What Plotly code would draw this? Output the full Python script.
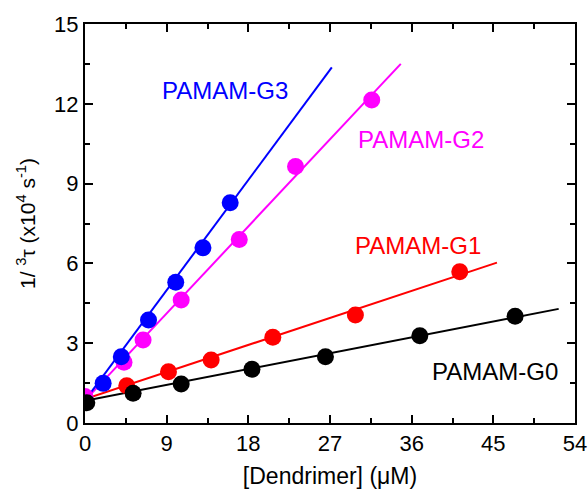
import plotly.graph_objects as go

# ---- data ----
g0_x = [0.2, 5.3, 10.6, 18.4, 26.5, 36.9, 47.4]
g0_y = [0.76, 1.12, 1.47, 2.02, 2.49, 3.28, 4.01]
g1_x = [4.6, 9.2, 13.9, 20.7, 29.8, 41.3]
g1_y = [1.40, 1.93, 2.37, 3.22, 4.06, 5.69]
g2_x = [0.0, 4.3, 6.4, 10.6, 17.0, 23.2, 31.6]
g2_y = [1.0, 2.28, 3.12, 4.62, 6.90, 9.64, 12.14]
g3_x = [2.0, 4.0, 7.0, 10.0, 13.0, 16.0]
g3_y = [1.49, 2.49, 3.87, 5.29, 6.59, 8.28]

# linear fit lines (start / end)
fit0_x = [0, 52.2]
fit0_y = [0.84, 4.29]
fit1_x = [0, 45.4]
fit1_y = [0.90, 6.03]
fit2_x = [0, 34.8]
fit2_y = [0.85, 13.5]
fit3_x = [0, 27.2]
fit3_y = [0.85, 13.37]

labels = ["PAMAM-G0", "PAMAM-G1", "PAMAM-G2", "PAMAM-G3"]
colors = ["#000000", "#ff0000", "#ff00ff", "#0000ff"]

x_ticks = [0, 9, 18, 27, 36, 45, 54]
y_ticks = [0, 3, 6, 9, 12, 15]

FONT = "Liberation Sans, Arial, sans-serif"

fig = go.Figure()

series = [
    (fit2_x, fit2_y, g2_x, g2_y, colors[2]),
    (fit3_x, fit3_y, g3_x, g3_y, colors[3]),
    (fit1_x, fit1_y, g1_x, g1_y, colors[1]),
    (fit0_x, fit0_y, g0_x, g0_y, colors[0]),
]
for fx, fy, px, py, c in series:
    fig.add_trace(go.Scatter(x=fx, y=fy, mode="lines",
                             line=dict(color=c, width=2), showlegend=False,
                             hoverinfo="skip"))
for fx, fy, px, py, c in series:
    fig.add_trace(go.Scatter(x=px, y=py, mode="markers",
                             marker=dict(color=c, size=17, line=dict(width=0)),
                             showlegend=False))

# series labels
label_pos = [(45.2, 1.92), (36.7, 6.69), (37.0, 10.64), (15.4, 12.5)]
for (lx, ly), t, c in zip(label_pos, labels, colors):
    fig.add_annotation(x=lx, y=ly, text=t, showarrow=False,
                       font=dict(family=FONT, size=24, color=c),
                       xanchor="center", yanchor="middle")

axis_common = dict(
    showline=True, linecolor="black", linewidth=2, mirror="ticks",
    ticks="inside", ticklen=8, tickwidth=1.5, tickcolor="black",
    showgrid=False, zeroline=False, automargin=False,
    tickfont=dict(family=FONT, size=22, color="black"),
)

fig.update_xaxes(range=[0, 54], tickvals=x_ticks,
                 ticktext=[str(v) for v in x_ticks],
                 minor=dict(ticks="inside", ticklen=5, tickwidth=1.5,
                            tickcolor="black", dtick=4.5, tick0=0),
                 title_text="[Dendrimer] (μM)", title_standoff=14,
                 title_font=dict(family=FONT, size=23, color="black"),
                 **axis_common)
fig.update_yaxes(range=[0, 15], tickvals=y_ticks,
                 ticktext=[str(v) for v in y_ticks],
                 minor=dict(ticks="inside", ticklen=5, tickwidth=1.5,
                            tickcolor="black", dtick=1.5, tick0=0),
                 title_text="1/ <sup>3</sup>τ (x10<sup>4</sup> s<sup>-1</sup>)",
                 title_standoff=13,
                 title_font=dict(family=FONT, size=21, color="black"),
                 **axis_common)

fig.update_layout(
    width=588, height=489,
    margin=dict(l=85, r=13, t=24, b=66),
    plot_bgcolor="white", paper_bgcolor="white",
    font=dict(family=FONT, color="black"),
)

fig.write_html("out.html", config={"displayModeBar": False},
               post_script="document.body.style.margin='0';document.body.style.overflow='hidden';")
